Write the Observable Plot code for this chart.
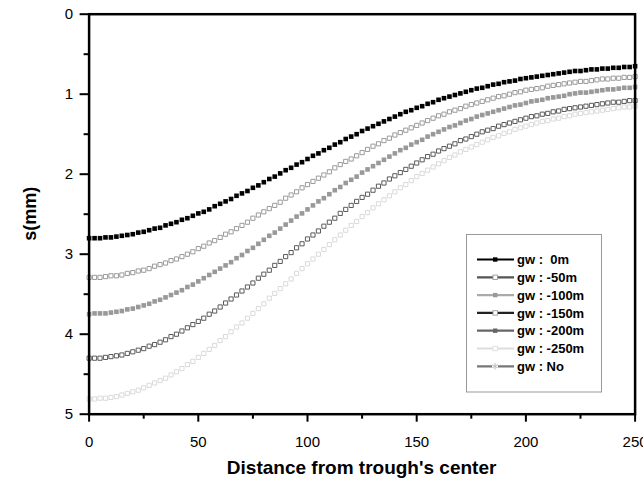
<!DOCTYPE html>
<html><head><meta charset="utf-8">
<script src="https://cdn.jsdelivr.net/npm/d3@7"></script>
<script src="https://cdn.jsdelivr.net/npm/@observablehq/plot@0.6"></script>
<style>html,body{margin:0;padding:0;background:#fff;} svg{display:block;}</style>
</head><body><div id="chart"></div>
<script>
// ---- data ----
const distance = [0,2.5,5,7.5,10,12.5,15,17.5,20,22.5,25,27.5,30,32.5,35,37.5,40,42.5,45,47.5,50,52.5,55,57.5,60,62.5,65,67.5,70,72.5,75,77.5,80,82.5,85,87.5,90,92.5,95,97.5,100,102.5,105,107.5,110,112.5,115,117.5,120,122.5,125,127.5,130,132.5,135,137.5,140,142.5,145,147.5,150,152.5,155,157.5,160,162.5,165,167.5,170,172.5,175,177.5,180,182.5,185,187.5,190,192.5,195,197.5,200,202.5,205,207.5,210,212.5,215,217.5,220,222.5,225,227.5,230,232.5,235,237.5,240,242.5,245,247.5,250];

const s0m = [2.80,2.80,2.80,2.79,2.79,2.78,2.77,2.76,2.75,2.73,2.72,2.70,2.68,2.67,2.64,2.62,2.60,2.57,2.55,2.52,2.49,2.47,2.44,2.40,2.37,2.34,2.31,2.27,2.24,2.21,2.17,2.14,2.10,2.06,2.03,1.99,1.95,1.92,1.88,1.85,1.81,1.77,1.74,1.70,1.67,1.63,1.60,1.56,1.53,1.50,1.46,1.43,1.40,1.37,1.34,1.31,1.28,1.25,1.22,1.20,1.17,1.15,1.12,1.10,1.07,1.05,1.03,1.01,0.99,0.97,0.95,0.93,0.92,0.90,0.88,0.87,0.85,0.84,0.83,0.81,0.80,0.79,0.78,0.77,0.76,0.75,0.74,0.73,0.72,0.71,0.71,0.70,0.69,0.69,0.68,0.68,0.67,0.67,0.66,0.66,0.65];

const s50m = [3.29,3.29,3.29,3.28,3.27,3.27,3.26,3.24,3.23,3.21,3.20,3.18,3.15,3.13,3.11,3.08,3.06,3.03,3.00,2.97,2.93,2.90,2.86,2.83,2.79,2.75,2.72,2.68,2.64,2.60,2.55,2.51,2.47,2.43,2.39,2.35,2.30,2.26,2.22,2.17,2.13,2.09,2.05,2.01,1.97,1.92,1.88,1.84,1.81,1.77,1.73,1.69,1.65,1.62,1.58,1.55,1.51,1.48,1.45,1.42,1.39,1.36,1.33,1.30,1.27,1.25,1.22,1.20,1.18,1.15,1.13,1.11,1.09,1.07,1.05,1.03,1.02,1.00,0.98,0.97,0.95,0.94,0.93,0.92,0.90,0.89,0.88,0.87,0.86,0.85,0.84,0.84,0.83,0.82,0.81,0.81,0.80,0.80,0.79,0.79,0.78];

const s100m = [3.75,3.74,3.74,3.74,3.73,3.72,3.71,3.69,3.68,3.66,3.64,3.62,3.59,3.57,3.54,3.51,3.48,3.45,3.41,3.38,3.34,3.30,3.26,3.22,3.18,3.14,3.10,3.05,3.01,2.96,2.92,2.87,2.82,2.77,2.73,2.68,2.63,2.58,2.53,2.49,2.44,2.39,2.34,2.30,2.25,2.20,2.16,2.11,2.07,2.03,1.98,1.94,1.90,1.86,1.82,1.78,1.74,1.70,1.67,1.63,1.60,1.57,1.53,1.50,1.47,1.44,1.41,1.39,1.36,1.33,1.31,1.28,1.26,1.24,1.22,1.20,1.18,1.16,1.14,1.13,1.11,1.09,1.08,1.07,1.05,1.04,1.03,1.02,1.00,0.99,0.98,0.98,0.97,0.96,0.95,0.94,0.94,0.93,0.92,0.92,0.91];

const s150m = [4.30,4.30,4.30,4.29,4.28,4.27,4.26,4.24,4.22,4.20,4.18,4.15,4.13,4.10,4.07,4.03,4.00,3.96,3.92,3.88,3.84,3.80,3.75,3.71,3.66,3.61,3.56,3.51,3.46,3.41,3.36,3.30,3.25,3.20,3.14,3.09,3.03,2.98,2.92,2.87,2.81,2.76,2.71,2.65,2.60,2.55,2.49,2.44,2.39,2.34,2.29,2.25,2.20,2.15,2.11,2.06,2.02,1.98,1.94,1.90,1.86,1.82,1.78,1.75,1.71,1.68,1.65,1.62,1.58,1.56,1.53,1.50,1.47,1.45,1.43,1.40,1.38,1.36,1.34,1.32,1.30,1.28,1.27,1.25,1.24,1.22,1.21,1.19,1.18,1.17,1.16,1.15,1.14,1.13,1.12,1.11,1.10,1.10,1.09,1.08,1.08];

const s250m = [4.81,4.81,4.80,4.80,4.79,4.78,4.76,4.74,4.72,4.70,4.67,4.64,4.61,4.58,4.55,4.51,4.47,4.43,4.38,4.34,4.29,4.24,4.19,4.14,4.08,4.03,3.97,3.91,3.86,3.80,3.74,3.68,3.62,3.55,3.49,3.43,3.37,3.31,3.24,3.18,3.12,3.06,3.00,2.94,2.88,2.82,2.76,2.70,2.64,2.59,2.53,2.48,2.42,2.37,2.32,2.27,2.22,2.17,2.13,2.08,2.03,1.99,1.95,1.91,1.87,1.83,1.79,1.76,1.72,1.69,1.66,1.63,1.60,1.57,1.54,1.52,1.49,1.47,1.44,1.42,1.40,1.38,1.36,1.34,1.33,1.31,1.30,1.28,1.27,1.25,1.24,1.23,1.22,1.21,1.20,1.19,1.18,1.17,1.16,1.16,1.15];

const xMajorTicks = [0,50,100,150,200,250];
const xMinorTicks = [25,75,125,175,225];
const yMajorTicks = [0,1,2,3,4,5];
const yMinorTicks = [0.5,1.5,2.5,3.5,4.5];
const legendLabels = ["gw :  0m","gw : -50m","gw : -100m","gw : -150m","gw : -200m","gw : -250m","gw : No"];

// ---- styles ----
const font = "'Liberation Sans', Arial, Helvetica, sans-serif";
const series = [
  {values: s0m,   fill: "#000", stroke: "none", r: 2.6, sw: 0},
  {values: s50m,  fill: "#fff", stroke: "#9a9a9a", r: 2.35, sw: 1},
  {values: s100m, fill: "#999", stroke: "none", r: 2.6, sw: 0},
  {values: s150m, fill: "#fff", stroke: "#5a5a5a", r: 2.35, sw: 1},
  {values: s250m, fill: "#fff", stroke: "#dadada", r: 2.35, sw: 1}
];
const legendStyle = [
  {line: "#000", kind: "filled", m: "#000"},
  {line: "#555", kind: "open", m: "#999"},
  {line: "#aaa", kind: "filled", m: "#999"},
  {line: "#222", kind: "open", m: "#999"},
  {line: "#666", kind: "filled", m: "#666"},
  {line: "#ddd", kind: "open", m: "#ddd"},
  {line: "#777", kind: "star", m: "#bbb"}
];

const W = 643, H = 479;
const chart = Plot.plot({
  width: W, height: H,
  marginLeft: 88.6, marginRight: 8.4, marginTop: 13.7, marginBottom: 65.3,
  style: {fontFamily: font, fontSize: "15px", color: "#000", background: "#fff"},
  x: {domain: [0, 250]},
  y: {domain: [0, 5], reverse: true},
  marks: [
    Plot.axisX({ticks: xMajorTicks, tickSize: 8, tickPadding: 14, strokeWidth: 2, label: null, fontSize: 15, tickFormat: d => String(d)}),
    Plot.axisX({ticks: xMinorTicks, tickSize: 5, strokeWidth: 2, label: null, tickFormat: () => ""}),
    Plot.axisY({ticks: yMajorTicks, tickSize: 9, tickPadding: 7, strokeWidth: 2, label: null, fontSize: 15, tickFormat: d => String(d)}),
    Plot.axisY({ticks: yMinorTicks, tickSize: 5, strokeWidth: 2, label: null, tickFormat: () => ""}),
    ...series.map(s => Plot.dot(distance.map((d, i) => ({x: d, s: s.values[i]})), {
      x: "x", y: "s", symbol: "square", r: s.r, fill: s.fill, stroke: s.stroke, strokeWidth: s.sw
    })),
    Plot.frame({stroke: "#000", strokeWidth: 2.5})
  ]
});
document.getElementById("chart").appendChild(chart);

// ---- titles & legend ----
const svg = d3.select(chart);
svg.append("text").attr("x", 361.6).attr("y", 474).attr("text-anchor", "middle")
  .attr("font-family", font).attr("font-weight", "bold").attr("font-size", 19)
  .text("Distance from trough's center");
svg.append("text").attr("transform", "translate(36,213.7) rotate(-90)").attr("text-anchor", "middle")
  .attr("font-family", font).attr("font-weight", "bold").attr("font-size", 18)
  .text("s(mm)");

const lg = svg.append("g").attr("text-anchor", "start");
lg.append("rect").attr("x", 466.5).attr("y", 234.5).attr("width", 135).attr("height", 157.5)
  .attr("fill", "#fff").attr("stroke", "#999").attr("stroke-width", 1);
legendLabels.forEach((lab, i) => {
  const st = legendStyle[i];
  const y = 259.5 + i * 17.8;
  lg.append("line").attr("x1", 477).attr("x2", 514).attr("y1", y).attr("y2", y)
    .attr("stroke", st.line).attr("stroke-width", 2.2);
  if (st.kind === "filled") {
    lg.append("rect").attr("x", 493).attr("y", y - 2.2).attr("width", 4.4).attr("height", 4.4).attr("fill", st.m);
  } else if (st.kind === "open") {
    lg.append("rect").attr("x", 493).attr("y", y - 2.2).attr("width", 4.4).attr("height", 4.4)
      .attr("fill", "#fff").attr("stroke", st.m).attr("stroke-width", 0.9);
  } else {
    lg.append("rect").attr("x", 492).attr("y", y - 3).attr("width", 6).attr("height", 6).attr("fill", "#fff");
    lg.append("path").attr("transform", `translate(495,${y})`)
      .attr("d", d3.symbol(d3.symbolAsterisk, 30)()).attr("stroke", st.m).attr("stroke-width", 1).attr("fill", "none");
  }
  lg.append("text").attr("x", 517).attr("y", y).attr("dy", "0.36em").attr("text-anchor", "start")
    .attr("font-family", font).attr("font-weight", "bold").attr("font-size", 13)
    .attr("xml:space", "preserve").style("white-space", "pre").text(lab);
});
</script>
</body></html>
